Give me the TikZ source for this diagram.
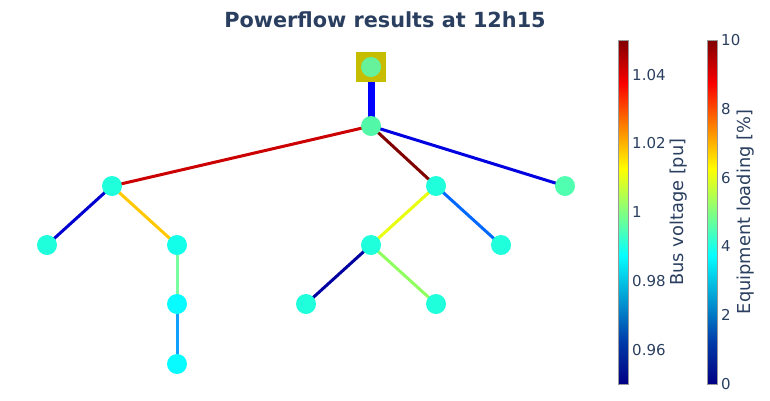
\documentclass[tikz,border=0pt]{standalone}
\usepackage{fontspec}
\setmainfont{DejaVu Sans}
\usetikzlibrary{backgrounds}
\definecolor{txt}{HTML}{2A3F5F}
\definecolor{jA}{RGB}{0,0,131}
\definecolor{jB}{RGB}{0,60,170}
\definecolor{jC}{RGB}{5,255,255}
\definecolor{jD}{RGB}{255,255,0}
\definecolor{jE}{RGB}{250,0,0}
\definecolor{jF}{RGB}{128,0,0}
\pgfdeclareverticalshading{jet}{100bp}{color(0bp)=(jA); color(25bp)=(jA); color(31.25bp)=(jB); color(43.75bp)=(jC); color(56.25bp)=(jD); color(68.75bp)=(jE); color(75bp)=(jF); color(100bp)=(jF)}
% bus colours
\definecolor{vEG}{HTML}{66F29A}
\definecolor{vA}{HTML}{52F8A8}
\definecolor{vB}{HTML}{20FFDC}
\definecolor{vC}{HTML}{12FFEA}
\definecolor{vD}{HTML}{08FBFF}
\definecolor{vE}{HTML}{50FFB0}
% line colours
\definecolor{lEG}{HTML}{0000FF}
\definecolor{l12}{HTML}{CC0000}
\definecolor{l13}{HTML}{800000}
\definecolor{l14}{HTML}{0000E0}
\definecolor{l25}{HTML}{0000D0}
\definecolor{l26}{HTML}{FFC800}
\definecolor{l69}{HTML}{78FFA0}
\definecolor{l912}{HTML}{10A0FF}
\definecolor{l37}{HTML}{E8FF10}
\definecolor{l38}{HTML}{0068FF}
\definecolor{l710}{HTML}{0000A0}
\definecolor{l711}{HTML}{90FF60}
\definecolor{egc}{HTML}{C6BC00}
\begin{document}
\begin{tikzpicture}[x=1pt,y=-1pt,
  bus/.style={circle,inner sep=0pt,minimum size=20pt,draw=none},
  egbox/.style={rectangle,inner sep=0pt,minimum size=30pt,fill=egc},
  edge/.style={line width=3pt},
  cbar/.style={rectangle,inner sep=0pt,minimum width=10pt,minimum height=344pt,shading=jet,draw=gray!80,line width=1pt},
  tick/.style={anchor=west,text=txt,font=\fontsize{15}{18}\selectfont,inner sep=0pt},
  axt/.style={rotate=90,text=txt,font=\fontsize{17.8}{21}\selectfont,inner sep=0pt}]
\useasboundingbox (0,0) rectangle (770,400);
\node[text=txt,font=\bfseries\fontsize{20.8}{25}\selectfont] (title) at (385,20) {Powerflow results at 12h15};
% nodes
\node[egbox] (eg) at (371,67) {};
\node[bus,fill=vEG] (b0) at (371,67) {};
\node[bus,fill=vA] (b1) at (371,126) {};
\node[bus,fill=vB] (b2) at (112,186) {};
\node[bus,fill=vB] (b3) at (436,186) {};
\node[bus,fill=vE] (b4) at (565,186) {};
\node[bus,fill=vB] (b5) at (47,245) {};
\node[bus,fill=vC] (b6) at (177,245) {};
\node[bus,fill=vB] (b7) at (371,245) {};
\node[bus,fill=vB] (b8) at (501,245) {};
\node[bus,fill=vD] (b9) at (177,304) {};
\node[bus,fill=vB] (b10) at (306,304) {};
\node[bus,fill=vB] (b11) at (436,304) {};
\node[bus,fill=vD] (b12) at (177,364) {};
\begin{scope}[on background layer]
\draw[line width=7pt,lEG] (eg.center) -- (b1.center);
\draw[edge,l12] (b1.center) -- (b2.center);
\draw[edge,l13] (b1.center) -- (b3.center);
\draw[edge,l14] (b1.center) -- (b4.center);
\draw[edge,l25] (b2.center) -- (b5.center);
\draw[edge,l26] (b2.center) -- (b6.center);
\draw[edge,l69] (b6.center) -- (b9.center);
\draw[edge,l912] (b9.center) -- (b12.center);
\draw[edge,l37] (b3.center) -- (b7.center);
\draw[edge,l38] (b3.center) -- (b8.center);
\draw[edge,l710] (b7.center) -- (b10.center);
\draw[edge,l711] (b7.center) -- (b11.center);
\end{scope}
% colour bars
\node[cbar] (vbar) at (623,212) {};
\node[tick] (v104) at (632,75) {1.04};
\node[tick] (v102) at (632,143.5) {1.02};
\node[tick] (v100) at (632,212.5) {1};
\node[tick] (v098) at (632,281) {0.98};
\node[tick] (v096) at (632,350) {0.96};
\node[axt] (vtitle) at (679,212) {Bus voltage [pu]};
\node[cbar] (lbar) at (712,212) {};
\node[tick] (l10) at (721,40) {10};
\node[tick] (l8) at (721,108.8) {8};
\node[tick] (l6) at (721,177.6) {6};
\node[tick] (l4) at (721,246.4) {4};
\node[tick] (l2) at (721,315.2) {2};
\node[tick] (l0) at (721,384) {0};
\node[axt] (ltitle) at (746,212) {Equipment loading [\%]};
\end{tikzpicture}
\end{document}
